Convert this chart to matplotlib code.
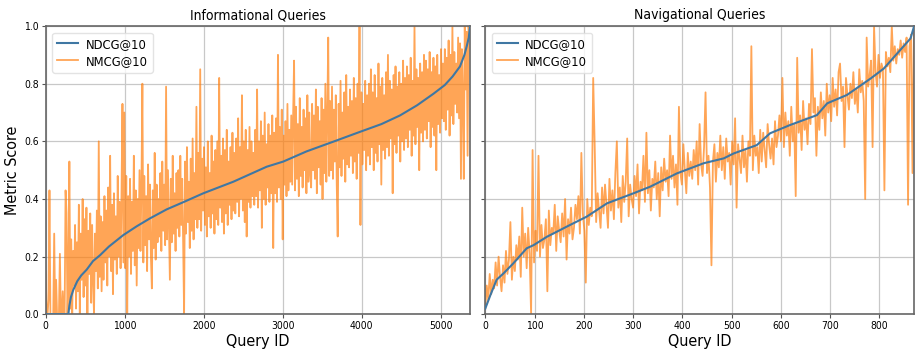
import matplotlib
matplotlib.use("Agg")
import matplotlib.pyplot as plt
import matplotlib.ticker as mticker
import numpy as np

plt.rcParams['font.family'] = ['DejaVu Sans']
plt.rcParams['font.stretch'] = 'condensed'

# ---------------- data ----------------
titles = ["Informational Queries", "Navigational Queries"]
series_names = ["NDCG@10", "NMCG@10"]

# Informational: NDCG@10 (sorted) read at key query ids
info_ndcg_ids = [0, 287, 300, 320, 350, 400, 450, 519, 600, 688, 800, 983, 1150, 1321,
                 1531, 1750, 1996, 2375, 2797, 3008, 3300, 3641, 3978, 4250, 4485, 4700,
                 4907, 5050, 5150, 5244, 5300, 5329, 5355, 5371]
info_ndcg = [0.0, 0.0, 0.03, 0.06, 0.085, 0.115, 0.135, 0.155, 0.185, 0.205, 0.235, 0.275,
             0.305, 0.333, 0.364, 0.39, 0.42, 0.46, 0.512, 0.53, 0.565, 0.599, 0.633, 0.66,
             0.69, 0.725, 0.765, 0.795, 0.825, 0.86, 0.9, 0.93, 0.96, 1.0]
info_n_queries = 5371
info_step = 12
# Informational: NMCG@10, one value every 12 queries
info_nmcg = [
    0.15, 0.0, 0.0, 0.05, 0.43, 0.0, 0.0, 0.0, 0.0, 0.28, 0.0, 0.12, 0.0, 0.0, 0.0, 0.21, 0.0, 0.0, 0.08, 0.0,
    0.0, 0.43, 0.35, 0.0, 0.14, 0.53, 0.02, 0.26, 0.0, 0.22, 0.1, 0.31, 0.02, 0.25, 0.08, 0.38, 0.0, 0.28, 0.12, 0.4,
    0.06, 0.33, 0.1, 0.37, 0.0, 0.29, 0.14, 0.35, 0.04, 0.31, 0.12, 0.0, 0.28, 0.15, 0.36, 0.09, 0.6, 0.13, 0.34, 0.08,
    0.32, 0.12, 0.41, 0.18, 0.36, 0.1, 0.44, 0.2, 0.55, 0.15, 0.38, 0.07, 0.42, 0.19, 0.34, 0.14, 0.48, 0.2, 0.39, 0.16,
    0.42, 0.73, 0.18, 0.7, 0.16, 0.48, 0.0, 0.41, 0.2, 0.47, 0.14, 0.39, 0.22, 0.55, 0.17, 0.43, 0.1, 0.4, 0.23, 0.5,
    0.22, 0.44, 0.8, 0.18, 0.48, 0.24, 0.41, 0.15, 0.52, 0.26, 0.45, 0.2, 0.09, 0.43, 0.23, 0.56, 0.19, 0.45, 0.25, 0.4,
    0.27, 0.49, 0.22, 0.53, 0.29, 0.45, 0.24, 0.79, 0.26, 0.5, 0.3, 0.12, 0.47, 0.25, 0.55, 0.28, 0.42, 0.22, 0.49, 0.3,
    0.5, 0.27, 0.55, 0.31, 0.47, 0.25, 0.0, 0.53, 0.28, 0.58, 0.32, 0.46, 0.23, 0.54, 0.29, 0.61, 0.26, 0.49, 0.33, 0.72,
    0.3, 0.56, 0.33, 0.85, 0.29, 0.54, 0.36, 0.58, 0.31, 0.51, 0.27, 0.6, 0.34, 0.49, 0.3, 0.62, 0.35, 0.53, 0.28, 0.57,
    0.33, 0.6, 0.31, 0.82, 0.37, 0.55, 0.32, 0.61, 0.28, 0.57, 0.35, 0.64, 0.31, 0.53, 0.38, 0.58, 0.33, 0.63, 0.36, 0.56,
    0.35, 0.61, 0.39, 0.68, 0.34, 0.58, 0.4, 0.76, 0.36, 0.6, 0.32, 0.64, 0.27, 0.57, 0.39, 0.65, 0.37, 0.6, 0.41, 0.56,
    0.38, 0.64, 0.41, 0.78, 0.37, 0.6, 0.43, 0.67, 0.3, 0.62, 0.4, 0.7, 0.38, 0.59, 0.44, 0.66, 0.39, 0.62, 0.42, 0.69,
    0.23, 0.63, 0.42, 0.68, 0.39, 0.9, 0.44, 0.65, 0.4, 0.71, 0.26, 0.62, 0.45, 0.67, 0.41, 0.73, 0.43, 0.64, 0.46, 0.69,
    0.45, 0.69, 0.88, 0.43, 0.72, 0.47, 0.66, 0.41, 0.75, 0.48, 0.65, 0.44, 0.71, 0.5, 0.68, 0.42, 0.76, 0.46, 0.7, 0.49,
    0.44, 0.73, 0.5, 0.69, 0.47, 0.78, 0.42, 0.72, 0.51, 0.67, 0.45, 0.75, 0.4, 0.71, 0.49, 0.8, 0.46, 0.68, 0.96, 0.48,
    0.74, 0.5, 0.79, 0.47, 0.71, 0.53, 0.76, 0.45, 0.27, 0.73, 0.51, 0.81, 0.48, 0.7, 0.54, 0.77, 0.46, 0.83, 0.52, 0.72,
    0.51, 0.78, 0.55, 0.74, 0.49, 0.82, 0.53, 0.75, 0.47, 0.8, 0.56, 1.0, 0.31, 0.77, 0.52, 0.73, 0.57, 0.81, 0.5, 0.76,
    0.55, 0.8, 0.52, 0.85, 0.58, 0.77, 0.5, 0.83, 0.56, 0.75, 0.53, 0.87, 0.59, 0.79, 0.45, 0.82, 0.57, 0.76, 0.54, 0.84,
    0.58, 0.9, 0.55, 0.81, 0.61, 0.78, 0.42, 0.83, 0.59, 0.86, 0.56, 0.79, 0.62, 0.84, 0.53, 0.8, 0.6, 0.88, 0.57, 0.82,
    0.61, 0.86, 0.58, 0.83, 0.64, 0.89, 0.55, 0.81, 0.62, 1.0, 0.59, 0.85, 0.65, 0.82, 0.5, 0.87, 0.63, 0.84, 0.6, 0.9,
    0.64, 0.88, 0.61, 0.85, 0.67, 0.91, 0.58, 0.84, 0.65, 0.89, 0.62, 0.86, 0.5, 0.9, 0.66, 0.83, 0.63, 0.92, 0.68, 0.87,
    0.67, 0.92, 0.64, 0.89, 0.71, 0.95, 0.62, 0.9, 0.69, 1.0, 0.66, 0.91, 0.73, 0.87, 0.7, 0.96, 0.68, 0.94, 0.47, 0.92,
    0.75, 0.47, 1.0, 0.78, 0.98, 0.55, 1.0, 0.96,
]

# Navigational: NDCG@10 (sorted) read at key query ids
nav_ndcg_ids = [0, 10, 23, 37, 57, 84, 98, 125, 172, 206, 247, 301, 335, 389, 443, 484, 504,
                551, 578, 619, 673, 694, 734, 782, 809, 836, 863, 870]
nav_ndcg = [0.02, 0.065, 0.12, 0.142, 0.177, 0.229, 0.24, 0.269, 0.31, 0.339, 0.385, 0.42,
            0.443, 0.489, 0.524, 0.541, 0.558, 0.587, 0.628, 0.657, 0.691, 0.732, 0.761,
            0.818, 0.853, 0.905, 0.957, 0.998]
nav_n_queries = 871
nav_step = 3
# Navigational: NMCG@10, one value every 3 queries
nav_nmcg = [
    0.02, 0.1, 0.05, 0.14, 0.07, 0.12, 0.09, 0.18, 0.1, 0.2, 0.13, 0.08, 0.17, 0.11, 0.22, 0.14, 0.19, 0.32, 0.12, 0.2,
    0.15, 0.24, 0.19, 0.27, 0.13, 0.37, 0.2, 0.28, 0.16, 0.3, 0.21, 0.0, 0.57, 0.18, 0.29, 0.22, 0.55, 0.2, 0.31, 0.23,
    0.26, 0.33, 0.08, 0.36, 0.24, 0.3, 0.28, 0.38, 0.22, 0.34, 0.29, 0.25, 0.35, 0.27, 0.4, 0.19, 0.33, 0.28, 0.37, 0.26,
    0.3, 0.38, 0.33, 0.41, 0.28, 0.56, 0.35, 0.29, 0.11, 0.4, 0.31, 0.37, 0.34, 0.82, 0.59, 0.32, 0.42, 0.36, 0.3, 0.44,
    0.35, 0.45, 0.38, 0.3, 0.47, 0.36, 0.43, 0.33, 0.49, 0.6, 0.37, 0.44, 0.32, 0.48, 0.39, 0.46, 0.61, 0.34, 0.45, 0.4,
    0.37, 0.48, 0.41, 0.52, 0.35, 0.46, 0.43, 0.55, 0.39, 0.63, 0.42, 0.5, 0.36, 0.47, 0.44, 0.53, 0.4, 0.49, 0.34, 0.51,
    0.43, 0.54, 0.46, 0.5, 0.41, 0.62, 0.47, 0.55, 0.44, 0.52, 0.38, 0.72, 0.49, 0.45, 0.59, 0.5, 0.42, 0.56, 0.48, 0.53,
    0.47, 0.57, 0.5, 0.6, 0.45, 0.66, 0.52, 0.48, 0.58, 0.77, 0.49, 0.55, 0.44, 0.17, 0.53, 0.59, 0.46, 0.56, 0.51, 0.62,
    0.5, 0.58, 0.47, 0.61, 0.53, 0.56, 0.45, 0.6, 0.52, 0.68, 0.37, 0.59, 0.54, 0.49, 0.62, 0.51, 0.57, 0.46, 0.6, 0.55,
    0.93, 0.5, 0.62, 0.55, 0.58, 0.49, 0.64, 0.53, 0.63, 0.57, 0.51, 0.66, 0.59, 0.54, 0.61, 0.52, 0.67, 0.58, 0.62, 0.69,
    0.6, 0.82, 0.58, 0.7, 0.62, 0.67, 0.55, 0.72, 0.6, 0.66, 0.41, 0.89, 0.63, 0.69, 0.57, 0.74, 0.64, 0.68, 0.59, 0.73,
    0.66, 0.92, 0.7, 0.75, 0.55, 0.72, 0.64, 0.77, 0.68, 0.74, 0.62, 0.8, 0.7, 0.76, 0.67, 0.82, 0.72, 0.78, 0.69, 0.84,
    0.87, 0.74, 0.79, 0.58, 0.82, 0.76, 0.71, 0.8, 0.75, 0.84, 0.73, 0.78, 0.7, 0.85, 0.77, 0.81, 0.74, 0.4, 0.96, 0.79,
    0.83, 0.88, 0.58, 1.0, 0.84, 0.79, 0.9, 0.82, 0.87, 0.85, 0.43, 0.91, 0.86, 0.89, 0.84, 1.0, 0.88, 0.93, 0.87, 0.92,
    0.9, 0.95, 0.89, 0.94, 0.91, 0.96, 0.38, 0.93, 0.97, 0.49, 1.0,
]

info_xticks = [0, 1000, 2000, 3000, 4000, 5000]
nav_xticks = [0, 100, 200, 300, 400, 500, 600, 700, 800]
yticks = [0.0, 0.2, 0.4, 0.6, 0.8, 1.0]

# ---------------- figure ----------------
fig = plt.figure(figsize=(9.17, 3.52), dpi=100)
ax1 = fig.add_axes([0.0498, 0.107, 0.4627, 0.819])
ax2 = fig.add_axes([0.5292, 0.107, 0.4675, 0.819], sharey=ax1)

ndcg_color = '#3f77a3'
nmcg_color = '#ff7f0e'

panels = [
    (ax1, info_ndcg_ids, info_ndcg, info_nmcg, info_step, info_n_queries, info_xticks, titles[0]),
    (ax2, nav_ndcg_ids, nav_ndcg, nav_nmcg, nav_step, nav_n_queries, nav_xticks, titles[1]),
]

for ax, nd_ids, nd, nm, step, nq, xt, title in panels:
    q_ids = np.arange(len(nm)) * step
    ax.plot(nd_ids, nd, color=ndcg_color, lw=1.5, label=series_names[0], zorder=3)
    ax.plot(q_ids, nm, color=nmcg_color, lw=1.3, alpha=0.7, label=series_names[1], zorder=2)
    ax.set_xlim(0, nq - 1)
    ax.set_ylim(0.0, 1.0)
    ax.set_xticks(xt)
    ax.set_yticks(yticks)
    ax.grid(True, color='#c8c8c8', lw=0.9)
    ax.set_axisbelow(True)
    ax.set_title(title, fontsize=10, pad=5)
    ax.set_xlabel("Query ID", fontsize=11.5, labelpad=2)
    ax.tick_params(labelsize=7.5, length=3, pad=2, color='#555555')
    for s in ax.spines.values():
        s.set_color('#666666')
        s.set_linewidth(1.2)
    leg = ax.legend(loc='upper left', fontsize=9.3, framealpha=0.8, borderpad=0.4,
                    handlelength=1.6, handletextpad=0.6, labelspacing=0.3)
    leg.get_frame().set_edgecolor('#dddddd')

ax1.set_ylabel("Metric Score", fontsize=11.5, labelpad=3)
ax1.yaxis.set_major_formatter(mticker.FormatStrFormatter('%.1f'))
plt.setp(ax2.get_yticklabels(), visible=False)

fig.savefig("out.png", dpi=100)
